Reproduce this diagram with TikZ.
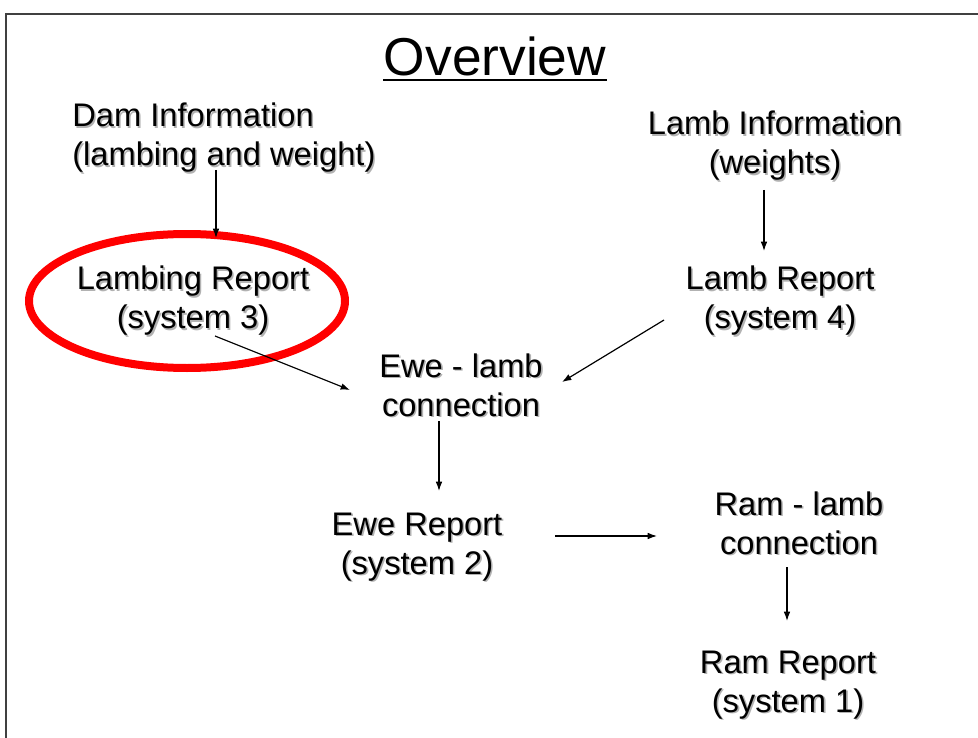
\documentclass[tikz,border=0pt]{standalone}
\usepackage{fontspec}
\setmainfont{Liberation Sans}
\usetikzlibrary{arrows.meta,calc}
\tikzset{
  lbl/.style={inner sep=0pt, align=center, font=\fontsize{24.5}{29.25}\selectfont},
  shd/.style={lbl, text=black!30},
  conn/.style={-{Latex[length=7pt,width=5pt]}, line width=0.9pt, black},
  frameline/.style={line width=1.2pt, black!75},
  ring/.style={draw=red, line width=6pt}
}
\newcommand{\shnode}[4][]{%
  \node[shd,#1] at ($(#3)+(1.6,1.6)$) {#4};
  \node[lbl,#1] (#2) at (#3) {#4};
}
\begin{document}
\begin{tikzpicture}[x=0.75pt,y=-0.75pt]
\useasboundingbox (0,0) rectangle (978,738);
\fill[white] (0,0) rectangle (978,738);
% frame
\draw[frameline] (6,738) -- (6,14) -- (978,14);
% title
\node[inner sep=0pt, font=\fontsize{40}{48}\selectfont] (title) at (495,56) {Overview};
\draw[line width=2.2pt] (383,80) -- (607,80);
% red ellipse
\draw[ring] (187,301) ellipse [x radius=158, y radius=67];
% texts
\shnode[anchor=west, align=left]{dam}{72,138}{Dam Information\\(lambing and weight)}
\shnode{lambinfo}{775,146}{Lamb Information\\(weights)}
\shnode{lambing}{193,301}{Lambing Report\\(system 3)}
\shnode{lambrep}{780,301}{Lamb Report\\(system 4)}
\shnode{ewelamb}{461,385}{Ewe - lamb\\connection}
\shnode{ewerep}{417,547}{Ewe Report\\(system 2)}
\shnode{ramlamb}{799,523}{Ram - lamb\\connection}
\shnode{ramrep}{788,685}{Ram Report\\(system 1)}
% connectors
\coordinate (a1) at (216,170); \coordinate (a2) at (216,238);
\draw[conn] (a1) -- (a2);
\coordinate (b1) at (764,190); \coordinate (b2) at (764,251);
\draw[conn] (b1) -- (b2);
\coordinate (c1) at (215,336); \coordinate (c2) at (350,390);
\draw[conn] (c1) -- (c2);
\coordinate (d1) at (664,320); \coordinate (d2) at (562,382);
\draw[conn] (d1) -- (d2);
\coordinate (e1) at (439,421); \coordinate (e2) at (439,491);
\draw[conn] (e1) -- (e2);
\coordinate (f1) at (555,536); \coordinate (f2) at (657,536);
\draw[conn] (f1) -- (f2);
\coordinate (g1) at (787,567); \coordinate (g2) at (787,621);
\draw[conn] (g1) -- (g2);
\end{tikzpicture}
\end{document}
